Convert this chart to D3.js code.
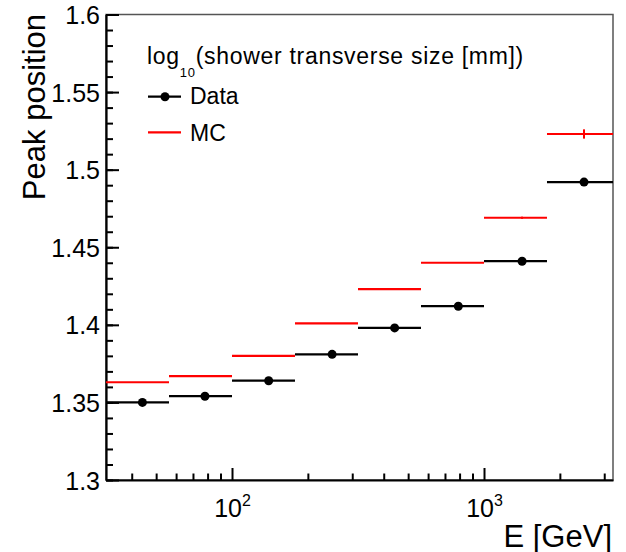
<!DOCTYPE html>
<html>
<head>
<meta charset="utf-8">
<script src="https://cdn.jsdelivr.net/npm/d3@7"></script>
<style>
body { margin: 0; background: #fff; }
text { font-family: "Liberation Sans", Arial, Helvetica, sans-serif; fill: #000; }
</style>
</head>
<body>
<script>
// bins in energy (GeV), log spaced
var binEdges = [31.62, 56.23, 100, 177.8, 316.2, 562.3, 1000, 1778, 3250];
var energies = [44.1, 78.1, 139.8, 249.6, 442, 790.7, 1416, 2494];
var dataPeak = [1.350, 1.354, 1.364, 1.381, 1.398, 1.412, 1.441, 1.492];
var mcPeak = [1.363, 1.367, 1.380, 1.401, 1.423, 1.440, 1.469, 1.523];
var mcErr = [0, 0, 0, 0, 0, 0, 0.0007, 0.003];
var yTicks = [1.3, 1.35, 1.4, 1.45, 1.5, 1.55, 1.6];
var xTicks = [100, 1000];
var xMinor = [40, 50, 60, 70, 80, 90, 200, 300, 400, 500, 600, 700, 800, 900, 2000, 3000];

var W = 626, H = 552;
var padL = 106, padR = 613, padT = 14.5, padB = 480;

var svg = d3.select(document.body).append("svg")
	.attr("width", W)
	.attr("height", H);

var x = d3.scaleLog().domain([binEdges[0], binEdges[binEdges.length - 1]]).range([padL, padR]);
var y = d3.scaleLinear().domain([1.3, 1.6]).range([padB, padT]);

// frame (top / right)
svg.append("rect")
	.attr("x", padL).attr("y", padT)
	.attr("width", padR - padL).attr("height", padB - padT)
	.attr("fill", "none")
	.attr("stroke", "#555")
	.attr("stroke-width", 1.5);

// y axis
var yMinorVals = d3.range(130, 161).map(function (d) { return d / 100; });
svg.append("g")
	.attr("transform", "translate(" + padL + ",0)")
	.call(d3.axisLeft(y).tickValues(yMinorVals).tickSizeInner(-7).tickSizeOuter(0).tickFormat(""))
	.call(function (g) { g.select(".domain").remove(); g.selectAll("line").attr("stroke-width", 2); });

var yAxis = svg.append("g")
	.attr("transform", "translate(" + padL + ",0)")
	.call(d3.axisLeft(y).tickValues(yTicks).tickSizeInner(-13).tickSizeOuter(0).tickPadding(6)
		.tickFormat(function (d) { return String(+d.toFixed(2)); }));
yAxis.select(".domain").attr("stroke-width", 2.2);
yAxis.selectAll("line").attr("stroke-width", 2);
yAxis.selectAll("text")
	.attr("font-size", 25)
	.attr("dy", "0.36em")
	.style("font-family", "'Liberation Sans', Arial, sans-serif");

// x axis
svg.append("g")
	.attr("transform", "translate(0," + padB + ")")
	.call(d3.axisBottom(x).tickValues(xMinor).tickSizeInner(-6.5).tickSizeOuter(0).tickFormat(""))
	.call(function (g) { g.select(".domain").remove(); g.selectAll("line").attr("stroke-width", 2); });

var xAxis = svg.append("g")
	.attr("transform", "translate(0," + padB + ")")
	.call(d3.axisBottom(x).tickValues(xTicks).tickSizeInner(-12).tickSizeOuter(0).tickFormat(""));
xAxis.select(".domain").attr("stroke-width", 2.2);
xAxis.selectAll("line").attr("stroke-width", 2);
xAxis.selectAll(".tick text").remove();
xAxis.selectAll(".tick").append("text")
	.attr("y", 37)
	.attr("text-anchor", "middle")
	.each(function (d) {
		var t = d3.select(this);
		t.append("tspan").attr("font-size", 25).text("10");
		t.append("tspan").attr("font-size", 16).attr("dy", -11).text(Math.round(Math.log10(d)));
	});

// axis titles
svg.append("text")
	.attr("x", 612).attr("y", 546.5)
	.attr("text-anchor", "end")
	.attr("font-size", 31)
	.text("E [GeV]");

svg.append("text")
	.attr("transform", "translate(45,14) rotate(-90)")
	.attr("text-anchor", "end")
	.attr("font-size", 31)
	.text("Peak position");

// MC
var mc = svg.append("g").attr("stroke", "#ff0000");
mc.selectAll("line.h").data(mcPeak).enter().append("line")
	.attr("class", "h")
	.attr("x1", function (d, i) { return x(binEdges[i]); })
	.attr("x2", function (d, i) { return x(binEdges[i + 1]); })
	.attr("y1", function (d) { return y(d); })
	.attr("y2", function (d) { return y(d); })
	.attr("stroke-width", 2.2);
mc.selectAll("line.v").data(mcPeak).enter().append("line")
	.attr("class", "v")
	.attr("x1", function (d, i) { return x(energies[i]); })
	.attr("x2", function (d, i) { return x(energies[i]); })
	.attr("y1", function (d, i) { return y(d - mcErr[i]); })
	.attr("y2", function (d, i) { return y(d + mcErr[i]); })
	.attr("stroke-width", 2);

// Data
var dat = svg.append("g");
dat.selectAll("line").data(dataPeak).enter().append("line")
	.attr("x1", function (d, i) { return x(binEdges[i]); })
	.attr("x2", function (d, i) { return x(binEdges[i + 1]); })
	.attr("y1", function (d) { return y(d); })
	.attr("y2", function (d) { return y(d); })
	.attr("stroke", "#000")
	.attr("stroke-width", 2.2);
dat.selectAll("circle").data(dataPeak).enter().append("circle")
	.attr("cx", function (d, i) { return x(energies[i]); })
	.attr("cy", function (d) { return y(d); })
	.attr("r", 4.5)
	.attr("fill", "#000");

// legend
var leg = svg.append("g");
var title = leg.append("text")
	.attr("x", 147).attr("y", 64)
	.attr("font-size", 23)
	.attr("letter-spacing", 0.7);
title.append("tspan").text("log");
title.append("tspan").attr("font-size", 13).attr("dy", 13).text("10");
title.append("tspan").attr("dy", -13).text("(shower transverse size [mm])");

leg.append("line")
	.attr("x1", 148).attr("x2", 181).attr("y1", 96.7).attr("y2", 96.7)
	.attr("stroke", "#000").attr("stroke-width", 2.2);
leg.append("circle")
	.attr("cx", 165).attr("cy", 96.7).attr("r", 4.5).attr("fill", "#000");
leg.append("text")
	.attr("x", 190).attr("y", 104)
	.attr("font-size", 23)
	.text("Data");

leg.append("line")
	.attr("x1", 148).attr("x2", 181).attr("y1", 132.3).attr("y2", 132.3)
	.attr("stroke", "#ff0000").attr("stroke-width", 2.2);
leg.append("text")
	.attr("x", 190).attr("y", 141)
	.attr("font-size", 23)
	.text("MC");
</script>
</body>
</html>
